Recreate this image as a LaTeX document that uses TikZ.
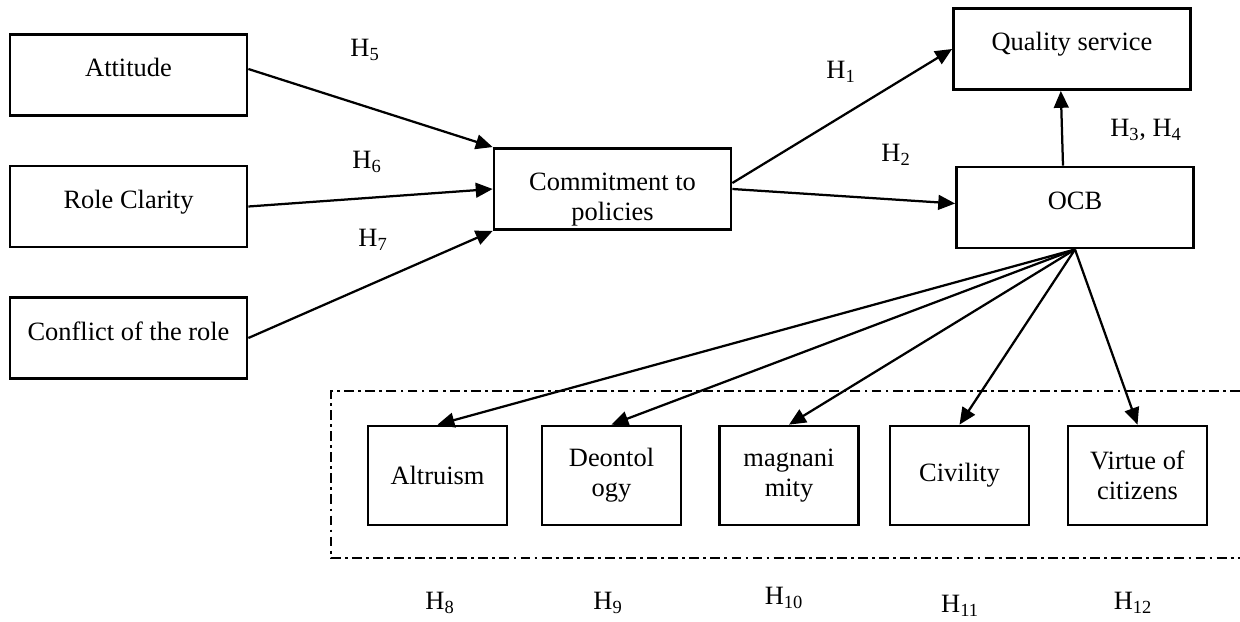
\documentclass[tikz,border=0pt]{standalone}
\usepackage{fontspec}
\setmainfont{Liberation Serif}
\usepackage{tikz}
\usetikzlibrary{arrows.meta,positioning}

\begin{document}
\begin{tikzpicture}[x=0.025cm,y=-0.025cm,>={Triangle[length=12pt,width=10.5pt]},
  font=\fontsize{18.8}{21.5}\selectfont,
  frame/.style={draw,line width=1.9pt,minimum width=5.925cm,minimum height=2.03cm,inner sep=0pt},
  box/.style={frame,text height=0.45cm,text depth=0.35cm},
  dimbox/.style={draw,line width=1.9pt,minimum width=3.475cm,minimum height=2.475cm,inner sep=0pt,align=center},
  hyp/.style={inner sep=0pt},
  link/.style={->,line width=1.6pt}]
\useasboundingbox (0,0) rectangle (1240,622);
% ---- antecedenti ----
\node[box] (att) at (128.5,75) {Attitude};
\node[box] (role) at (128.5,206.5) {Role Clarity};
\node[box] (conf) at (128.5,338) {Conflict of the role};
\node[frame,align=center,text height=1.72cm] (com) at (612.5,189) {Commitment to\\policies};
% ---- esiti ----
\node[box] (qual) at (1072,49) {Quality service};
\node[box] (ocb) at (1075,207.5) {OCB};
% ---- dimensioni OCB ----
\draw[line width=1pt,dash pattern=on 7pt off 3pt on 2pt off 3pt]
  (1240,391) -- (331,391) -- (331,558) -- (1240,558);
\node[dimbox] (alt) at (437.5,475.5) {Altruism};
\node[dimbox] (deo) at (611.5,475.5) {Deontol\\ogy};
\node[dimbox] (mag) at (789,475.5) {magnani\\mity};
\node[dimbox] (civ) at (959.5,475.5) {Civility};
\node[dimbox] (vir) at (1137.5,475.5) {Virtue of\\citizens};
% ---- frecce ----
\draw[link] ([yshift=0.15cm]att.east) -- (com.north west);
\draw[link] (role.east) -- (com.west);
\draw[link] (conf.east) -- (com.south west);
\draw[link] ([yshift=0.15cm]com.east) -- (qual.west);
\draw[link] (com.east) -- ([yshift=0.1cm]ocb.west);
\draw[link] ([xshift=-0.3cm]ocb.north) -- ([xshift=-0.28cm]qual.south);
\foreach \n in {alt,deo,mag,civ,vir}
  \draw[link] (ocb.south) -- (\n.north);
% ---- ipotesi ----
\node[hyp] (h5) at (365,50) {H\textsubscript{5}};
\node[hyp] (h6) at (367,162) {H\textsubscript{6}};
\node[hyp] (h7) at (373,240) {H\textsubscript{7}};
\node[hyp] (h1) at (841,72) {H\textsubscript{1}};
\node[hyp] (h2) at (896,155) {H\textsubscript{2}};
\node[hyp] (h34) at (1146,130) {H\textsubscript{3}, H\textsubscript{4}};
\node[hyp] (h8) at (440,603) {H\textsubscript{8}};
\node[hyp] (h9) at (608,603) {H\textsubscript{9}};
\node[hyp] (h10) at (784,598) {H\textsubscript{10}};
\node[hyp] (h11) at (960,606) {H\textsubscript{11}};
\node[hyp] (h12) at (1133,603) {H\textsubscript{12}};
\end{tikzpicture}
\end{document}
